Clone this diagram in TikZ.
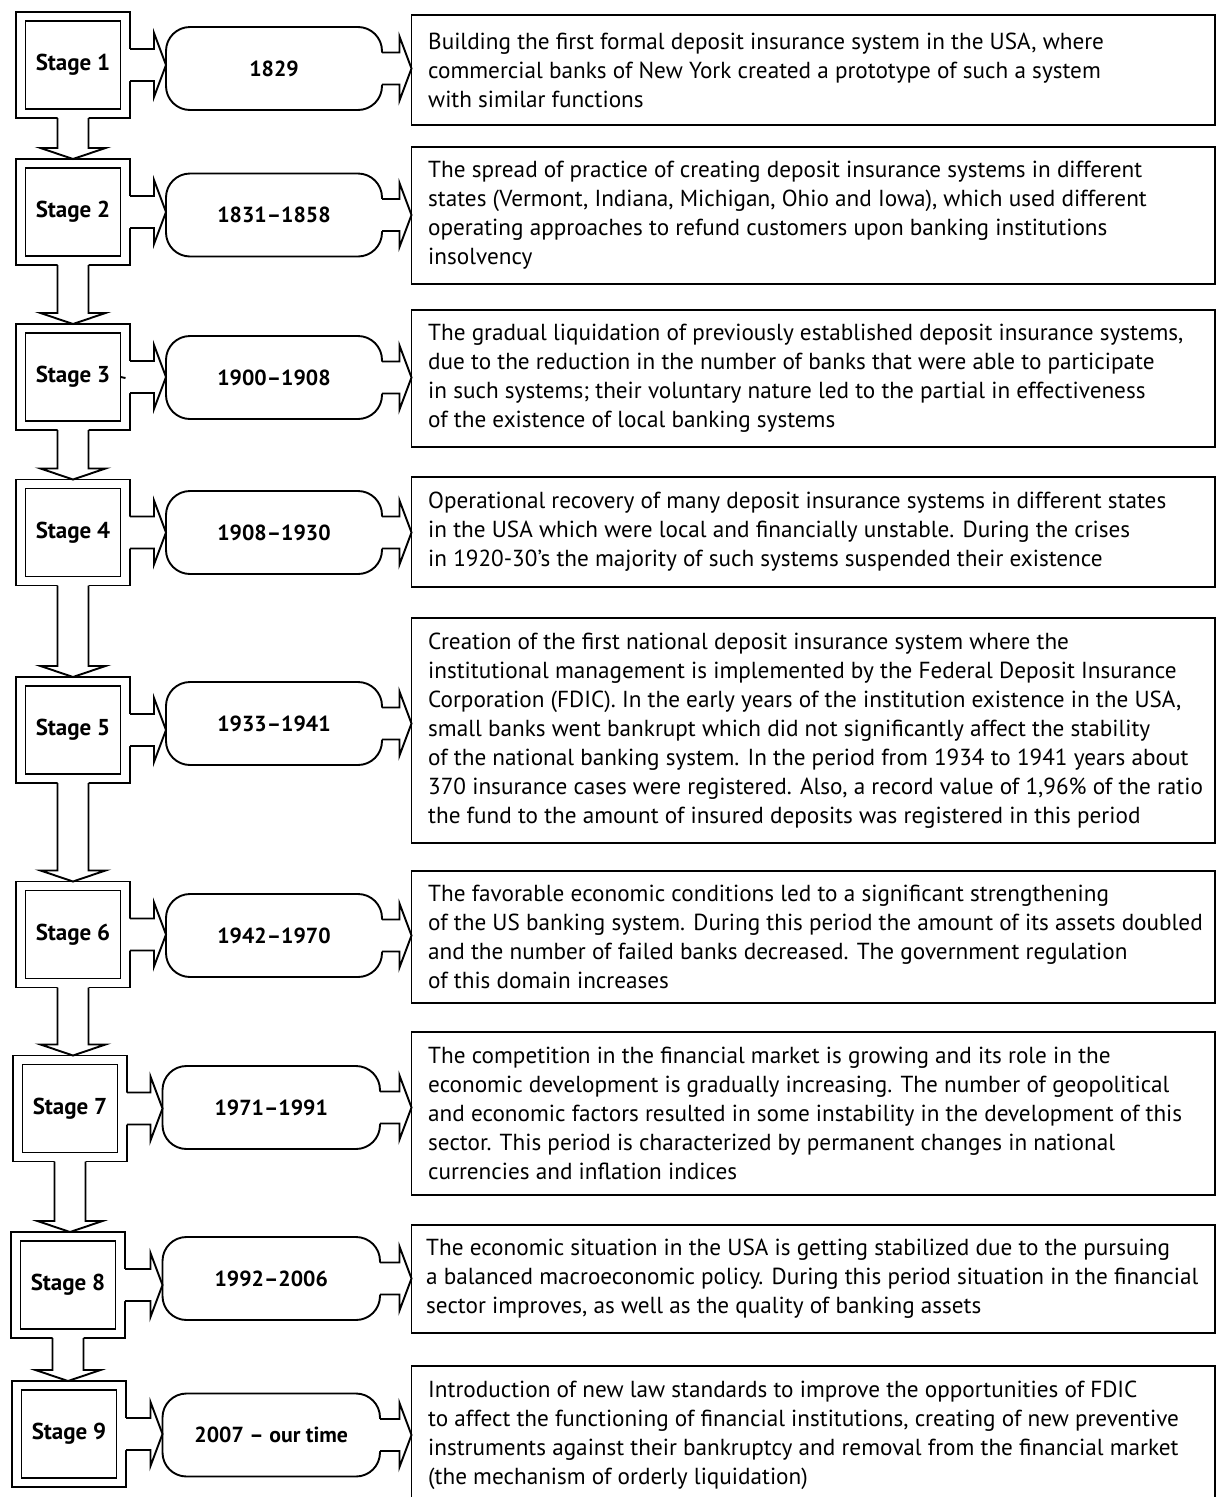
\documentclass[tikz,border=0pt]{standalone}
\usepackage{fontspec}
\setmainfont{PT Sans}
\usetikzlibrary{calc}
\tikzset{
  lw/.style={line width=1.9pt},
  outerbox/.style={draw, lw, minimum width=114pt, minimum height=106pt, inner sep=0pt, outer sep=0pt},
  innerbox/.style={draw, lw, minimum width=95pt, minimum height=88pt, inner sep=0pt, outer sep=0pt, font=\fontsize{23}{27}\selectfont\bfseries},
  term/.style={draw, lw, rounded corners=24pt, minimum height=83pt, inner sep=0pt, outer sep=0pt, font=\fontsize{21.8}{27}\selectfont\bfseries},
  desc/.style={draw, lw, minimum width=803.5pt, inner sep=0pt, outer sep=0pt},
  desctext/.style={anchor=west, align=left, inner sep=0pt, font=\fontsize{23.2}{29}\selectfont},
  blockline/.style={lw, line join=miter},
}
\newcommand\rightblock[2]{%
  \fill[white] let \p1=(#1.east), \p2=(#2.west) in
    ({\x1-1.5pt},{\y1+16pt}) -- ({\x2-12pt},{\y1+16pt}) -- ({\x2-12pt},{\y1+32pt}) -- (\x2,\y1)
    -- ({\x2-12pt},{\y1-32pt}) -- ({\x2-12pt},{\y1-16pt}) -- ({\x1-1.5pt},{\y1-16pt}) -- cycle;
  \draw[blockline] let \p1=(#1.east), \p2=(#2.west) in
    (\x1,{\y1+16pt}) -- ({\x2-12pt},{\y1+16pt}) -- ({\x2-12pt},{\y1+32pt}) -- (\x2,\y1)
    -- ({\x2-12pt},{\y1-32pt}) -- ({\x2-12pt},{\y1-16pt}) -- (\x1,{\y1-16pt});
}
\newcommand\downblock[2]{%
  \fill[white] let \p1=(#1.south), \p2=(#2.north) in
    ({\x1-15.5pt},{\y1+1.5pt}) -- ({\x1-15.5pt},{\y2+11pt}) -- ({\x1-32.5pt},{\y2+11pt}) -- (\x1,\y2)
    -- ({\x1+32.5pt},{\y2+11pt}) -- ({\x1+15.5pt},{\y2+11pt}) -- ({\x1+15.5pt},{\y1+1.5pt}) -- cycle;
  \draw[blockline] let \p1=(#1.south), \p2=(#2.north) in
    ({\x1-15.5pt},\y1) -- ({\x1-15.5pt},{\y2+11pt}) -- ({\x1-32.5pt},{\y2+11pt}) -- (\x1,\y2)
    -- ({\x1+32.5pt},{\y2+11pt}) -- ({\x1+15.5pt},{\y2+11pt}) -- ({\x1+15.5pt},\y1);
}
\begin{document}
\begin{tikzpicture}[x=1pt,y=-1pt]
\useasboundingbox (0,0) rectangle (1219,1497);
\clip (0,0) rectangle (1219,1497);
\fill[white] (0,0) rectangle (1219,1497);

% stage boxes
\node[outerbox] (s1) at (73,65) {};
\node[innerbox] (i1) at (73,65) {Stage 1};
\node[outerbox] (s2) at (73,212) {};
\node[innerbox] (i2) at (73,212) {Stage 2};
\node[outerbox] (s3) at (73,377) {};
\node[innerbox] (i3) at (73,377) {Stage 3};
\node[outerbox] (s4) at (73,532.5) {};
\node[innerbox] (i4) at (73,532.5) {Stage 4};
\node[outerbox] (s5) at (73,730) {};
\node[innerbox] (i5) at (73,730) {Stage 5};
\node[outerbox] (s6) at (73,934.5) {};
\node[innerbox] (i6) at (73,934.5) {Stage 6};
\node[outerbox] (s7) at (70,1108.5) {};
\node[innerbox] (i7) at (70,1108.5) {Stage 7};
\node[outerbox] (s8) at (68,1285) {};
\node[innerbox] (i8) at (68,1285) {Stage 8};
\node[outerbox] (s9) at (69,1434) {};
\node[innerbox] (i9) at (69,1434) {Stage 9};
\draw[lw] (i3.east) -- ++(5,1);

% period terminators
\node[term, minimum width=216pt] (t1) at (274,68.5) {1829};
\node[term, minimum width=216pt] (t2) at (274,215) {1831–1858};
\node[term, minimum width=216pt] (t3) at (274,377.5) {1900–1908};
\node[term, minimum width=216pt] (t4) at (274,532.5) {1908–1930};
\node[term, minimum width=216pt] (t5) at (274,723.5) {1933–1941};
\node[term, minimum width=216pt] (t6) at (274,935.5) {1942–1970};
\node[term, minimum width=217.5pt] (t7) at (271.25,1107.5) {1971–1991};
\node[term, minimum width=217.5pt] (t8) at (271.25,1278.5) {1992–2006};
\node[term, minimum width=217.5pt] (t9) at (271.25,1435) {2007 – our time};

% description boxes
\node[desc, minimum height=110pt] (d1) at (813.25,70) {};
\node[desc, minimum height=137pt] (d2) at (813.25,215.5) {};
\node[desc, minimum height=137pt] (d3) at (813.25,378.5) {};
\node[desc, minimum height=110pt] (d4) at (813.25,532) {};
\node[desc, minimum height=225pt] (d5) at (813.25,730.5) {};
\node[desc, minimum height=132pt] (d6) at (813.25,937) {};
\node[desc, minimum height=163pt] (d7) at (813.25,1113.5) {};
\node[desc, minimum height=108pt] (d8) at (813.25,1279) {};
\node[desc, minimum height=164pt] (d9) at (813.25,1448) {};

\node[desctext] (x1) at (428,70) {Building the first formal deposit insurance system in the USA, where\\commercial banks of New York created a prototype of such a system\\with similar functions};
\node[desctext] (x2) at (428,215.5) {The spread of practice of creating deposit insurance systems in different\\states (Vermont, Indiana, Michigan, Ohio and Iowa), which used different\\operating approaches to refund customers upon banking institutions\\insolvency};
\node[desctext] (x3) at (428,378.5) {The gradual liquidation of previously established deposit insurance systems,\\due to the reduction in the number of banks that were able to participate\\in such systems; their voluntary nature led to the partial in effectiveness\\of the existence of local banking systems};
\node[desctext] (x4) at (428,532) {Operational recovery of many deposit insurance systems in different states\\in the USA which were local and financially unstable. During the crises\\in 1920-30’s the majority of such systems suspended their existence};
\node[desctext] (x5) at (428,730.5) {Creation of the first national deposit insurance system where the\\institutional management is implemented by the Federal Deposit Insurance\\Corporation (FDIC). In the early years of the institution existence in the USA,\\small banks went bankrupt which did not significantly affect the stability\\of the national banking system. In the period from 1934 to 1941 years about\\370 insurance cases were registered. Also, a record value of 1,96\% of the ratio\\the fund to the amount of insured deposits was registered in this period};
\node[desctext] (x6) at (428,937) {The favorable economic conditions led to a significant strengthening\\of the US banking system. During this period the amount of its assets doubled\\and the number of failed banks decreased. The government regulation\\of this domain increases};
\node[desctext] (x7) at (428,1113.5) {The competition in the financial market is growing and its role in the\\economic development is gradually increasing. The number of geopolitical\\and economic factors resulted in some instability in the development of this\\sector. This period is characterized by permanent changes in national\\currencies and inflation indices};
\node[desctext] (x8) at (426,1279) {The economic situation in the USA is getting stabilized due to the pursuing\\a balanced macroeconomic policy. During this period situation in the financial\\sector improves, as well as the quality of banking assets};
\node[desctext] (x9) at (428,1435) {Introduction of new law standards to improve the opportunities of FDIC\\to affect the functioning of financial institutions, creating of new preventive\\instruments against their bankruptcy and removal from the financial market\\(the mechanism of orderly liquidation)};

% block arrows
\rightblock{s1}{t1}\rightblock{t1}{d1}
\rightblock{s2}{t2}\rightblock{t2}{d2}
\rightblock{s3}{t3}\rightblock{t3}{d3}
\rightblock{s4}{t4}\rightblock{t4}{d4}
\rightblock{s5}{t5}\rightblock{t5}{d5}
\rightblock{s6}{t6}\rightblock{t6}{d6}
\rightblock{s7}{t7}\rightblock{t7}{d7}
\rightblock{s8}{t8}\rightblock{t8}{d8}
\rightblock{s9}{t9}\rightblock{t9}{d9}
\downblock{s1}{s2}
\downblock{s2}{s3}
\downblock{s3}{s4}
\downblock{s4}{s5}
\downblock{s5}{s6}
\downblock{s6}{s7}
\downblock{s7}{s8}
\downblock{s8}{s9}
\end{tikzpicture}
\end{document}
